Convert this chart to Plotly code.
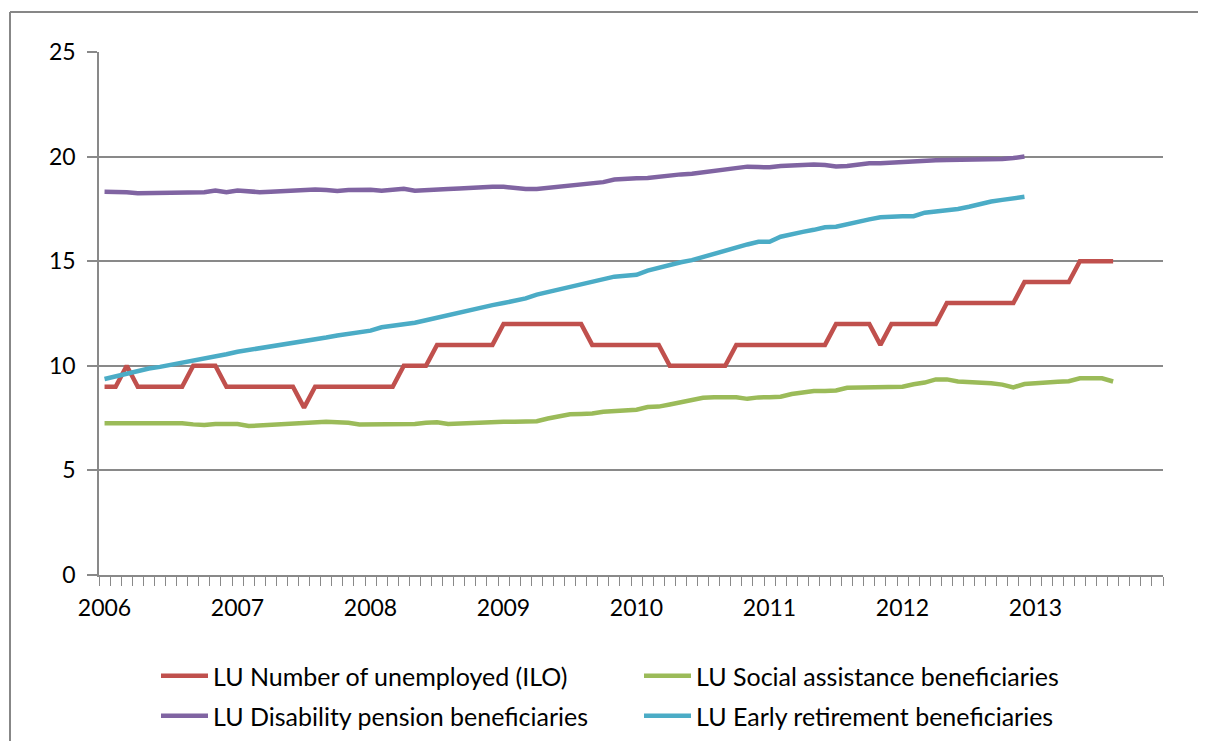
import plotly.graph_objects as go

# ---------------- data (monthly, Jan 2006 onwards) ----------------
year_labels = ["2006", "2007", "2008", "2009", "2010", "2011", "2012", "2013"]
n_months_axis = 96  # Jan 2006 .. Dec 2013 category slots

unemployed = [9, 9, 10, 9, 9, 9, 9, 9, 10, 10, 10, 9,
              9, 9, 9, 9, 9, 9, 8, 9, 9, 9, 9, 9,
              9, 9, 9, 10, 10, 10, 11, 11, 11, 11, 11, 11,
              12, 12, 12, 12, 12, 12, 12, 12, 11, 11, 11, 11,
              11, 11, 11, 10, 10, 10, 10, 10, 10, 11, 11, 11,
              11, 11, 11, 11, 11, 11, 12, 12, 12, 12, 11, 12,
              12, 12, 12, 12, 13, 13, 13, 13, 13, 13, 13, 14,
              14, 14, 14, 14, 15, 15, 15, 15]

social_assistance = [7.25, 7.25, 7.25, 7.3, 7.25, 7.3, 7.25, 7.25, 7.2, 7.17, 7.22, 7.22,
                     7.22, 7.12, 7.15, 7.17, 7.22, 7.27, 7.3, 7.32, 7.32, 7.3, 7.28, 7.2,
                     7.2, 7.2, 7.2, 7.2, 7.22, 7.28, 7.3, 7.22, 7.25, 7.28, 7.3, 7.3,
                     7.32, 7.32, 7.32, 7.35, 7.48, 7.6, 7.68, 7.7, 7.72, 7.8, 7.84, 7.86,
                     7.9, 8.03, 8.05, 8.15, 8.25, 8.4, 8.47, 8.5, 8.52, 8.5, 8.42, 8.49,
                     8.5, 8.52, 8.65, 8.75, 8.8, 8.8, 8.82, 8.95, 8.95, 8.97, 8.97, 9.0,
                     9.0, 9.12, 9.2, 9.35, 9.35, 9.25, 9.24, 9.2, 9.17, 9.1, 8.97, 9.13,
                     9.18, 9.2, 9.24, 9.26, 9.4, 9.4, 9.4, 9.25]

disability = [18.32, 18.32, 18.3, 18.25, 18.25, 18.25, 18.25, 18.25, 18.25, 18.3, 18.38, 18.3,
              18.38, 18.32, 18.3, 18.32, 18.35, 18.37, 18.4, 18.43, 18.4, 18.36, 18.4, 18.43,
              18.42, 18.37, 18.4, 18.46, 18.37, 18.38, 18.4, 18.45, 18.48, 18.52, 18.56, 18.56,
              18.56, 18.5, 18.45, 18.45, 18.5, 18.55, 18.6, 18.65, 18.7, 18.78, 18.9, 18.95,
              18.96, 18.98, 19.04, 19.12, 19.15, 19.18, 19.25, 19.33, 19.4, 19.45, 19.52, 19.5,
              19.49, 19.55, 19.58, 19.61, 19.62, 19.6, 19.53, 19.55, 19.62, 19.68, 19.68, 19.72,
              19.74, 19.76, 19.8, 19.83, 19.84, 19.84, 19.84, 19.84, 19.86, 19.89, 19.93, 20.0]

early_retirement = [9.37, 9.5, 9.65, 9.78, 9.87, 9.95, 10.05, 10.15, 10.25, 10.3, 10.42, 10.55,
                    10.67, 10.75, 10.85, 10.93, 11.0, 11.08, 11.15, 11.27, 11.35, 11.45, 11.52, 11.6,
                    11.68, 11.84, 11.9, 11.95, 12.06, 12.18, 12.3, 12.45, 12.58, 12.7, 12.8, 12.9,
                    13.0, 13.1, 13.22, 13.4, 13.52, 13.65, 13.8, 13.93, 14.05, 14.17, 14.26, 14.3,
                    14.35, 14.55, 14.7, 14.85, 14.95, 15.05, 15.2, 15.38, 15.55, 15.68, 15.8, 15.93,
                    15.93, 16.17, 16.3, 16.4, 16.5, 16.62, 16.65, 16.78, 16.9, 17.0, 17.1, 17.15,
                    17.15, 17.15, 17.32, 17.38, 17.43, 17.5, 17.6, 17.75, 17.85, 17.93, 18.0, 18.08]

series_names = ["LU Number of unemployed (ILO)", "LU Social assistance beneficiaries",
                "LU Disability pension beneficiaries", "LU Early retirement beneficiaries"]
series_values = [unemployed, social_assistance, disability, early_retirement]
series_colors = ["#C0504D", "#9BBB59", "#8064A2", "#4BACC6"]

# ---------------- layout geometry (page pixels; page body has an 8px margin) ----------------
OFF = 8
W, H = 1206 - OFF, 749 - 2 * OFF
plot_left, plot_right, plot_top, plot_bottom = 99, 1163, 52, 575   # page px
L = plot_left - OFF
R = W - (plot_right - OFF)
T = plot_top - OFF
B = H - (plot_bottom - OFF)
PW, PH = W - L - R, H - T - B

def px_to_paper_x(px):
    return (px - OFF - L) / PW

def px_to_paper_y(py):
    return (H - B - (py - OFF)) / PH

def px_to_cont_x(px):
    return (px - OFF) / W

def px_to_cont_y(py):
    return 1 - (py - OFF) / H

FONT = "Lato"
TICK_FS = 23
LEG_FS = 25
GRID = "#898989"

fig = go.Figure()
legend_ids = ["legend", "legend3", "legend2", "legend4"]
for name, vals, col, lid in zip(series_names, series_values, series_colors, legend_ids):
    fig.add_trace(go.Scatter(
        x=list(range(len(vals))), y=vals, mode="lines", name=name,
        line=dict(color=col, width=4.5), legend=lid,
    ))

legend_pos = {
    "legend": (156, 676),
    "legend3": (639, 676),
    "legend2": (156, 716),
    "legend4": (639, 716),
}
layout_legends = {}
for lid, (lx, ly) in legend_pos.items():
    layout_legends[lid] = dict(
        xref="container", yref="container",
        x=px_to_cont_x(lx), y=px_to_cont_y(ly), xanchor="left", yanchor="middle",
        orientation="v", bgcolor="rgba(0,0,0,0)", borderwidth=0,
        font=dict(family=FONT, size=LEG_FS, color="#000000"),
        itemwidth=47,
    )

border_x = px_to_paper_x(10)
border_y = px_to_paper_y(12)
fig.update_layout(
    width=W, height=H,
    margin=dict(l=L, r=R, t=T, b=B, pad=0, autoexpand=False),
    paper_bgcolor="white", plot_bgcolor="white",
    showlegend=True,
    font=dict(family=FONT, size=TICK_FS, color="#000000"),
    xaxis=dict(
        range=[-0.5, n_months_axis - 0.5],
        tickmode="array",
        tickvals=[12 * i for i in range(len(year_labels))],
        ticktext=year_labels,
        ticks="",
        showgrid=False, zeroline=False,
        showline=True, linecolor=GRID, linewidth=1.5,
        ticklabelstandoff=12,
        automargin=False,
        tickfont=dict(family=FONT, size=TICK_FS, color="#000000"),
        minor=dict(tickmode="linear", tick0=-0.5, dtick=1, ticks="outside",
                   ticklen=9, tickwidth=1, tickcolor=GRID, showgrid=False),
    ),
    yaxis=dict(
        range=[0, 25], tickmode="linear", tick0=0, dtick=5,
        showgrid=True, gridcolor=GRID, gridwidth=1.5,
        zeroline=False,
        showline=True, linecolor=GRID, linewidth=1.5,
        ticks="outside", ticklen=10, tickwidth=1.5, tickcolor=GRID,
        ticklabelstandoff=7,
        automargin=False,
        tickfont=dict(family=FONT, size=TICK_FS, color="#000000"),
    ),
    shapes=[
        dict(type="line", xref="paper", yref="paper",
             x0=border_x, x1=border_x, y0=border_y, y1=px_to_paper_y(800),
             line=dict(color="#878787", width=2), layer="below"),
        dict(type="line", xref="paper", yref="paper",
             x0=border_x, x1=px_to_paper_x(1300), y0=border_y, y1=border_y,
             line=dict(color="#878787", width=2), layer="below"),
    ],
    **layout_legends,
)

fig.write_html("out.html")
